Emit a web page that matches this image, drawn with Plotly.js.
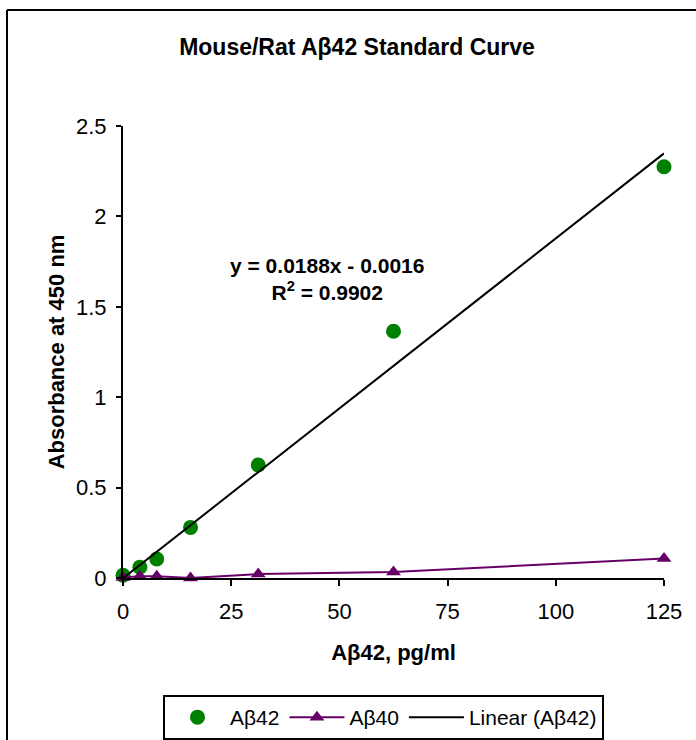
<!DOCTYPE html>
<html>
<head>
<meta charset="utf-8">
<script src="https://cdn.plot.ly/plotly-3.0.1.min.js"></script>
<style>
  html, body { margin: 0; padding: 0; background: #fff; }
  #chart { width: 696px; height: 740px; }
</style>
</head>
<body>
<div id="chart"></div>
<script>
// Concentrations (pg/ml)
const concentrations = [0, 3.9, 7.8, 15.6, 31.25, 62.5, 125];
// Absorbance at 450 nm
const ab42Values = [0.015, 0.06, 0.105, 0.28, 0.625, 1.365, 2.275];
const ab40Values = [0.003, 0.01, 0.01, 0.0, 0.022, 0.033, 0.108];
// Linear trendline (as printed on the chart)
const trendSlope = 0.0188;
const trendIntercept = -0.0016;
const trendX = [0, 125];
const xTicks = [0, 25, 50, 75, 100, 125];
const yTicks = [0, 0.5, 1, 1.5, 2, 2.5];
const yTickLabels = ['0', '0.5', '1', '1.5', '2', '2.5'];

const FONT = 'Liberation Sans, Arial, Helvetica, sans-serif';

const traces = [
  {
    name: 'Aβ42',
    x: concentrations,
    y: ab42Values,
    mode: 'markers',
    type: 'scatter',
    cliponaxis: false,
    marker: { color: '#008000', size: 15, symbol: 'circle' }
  },
  {
    name: 'Aβ40',
    x: concentrations,
    y: ab40Values,
    mode: 'lines+markers',
    type: 'scatter',
    cliponaxis: false,
    line: { color: '#660066', width: 2 },
    marker: { color: '#660066', size: 13, symbol: 'triangle-up' }
  },
  {
    name: 'Linear (Aβ42)',
    x: trendX,
    y: trendX.map(v => trendSlope * v + trendIntercept),
    mode: 'lines',
    type: 'scatter',
    cliponaxis: false,
    line: { color: '#000000', width: 2 }
  }
];

const layout = {
  width: 696,
  height: 740,
  margin: { l: 123, r: 32, t: 126, b: 162, autoexpand: false },
  paper_bgcolor: '#ffffff',
  plot_bgcolor: '#ffffff',
  font: { family: FONT, size: 22, color: '#000' },
  title: {
    text: 'Mouse/Rat Aβ42 Standard Curve',
    font: { family: FONT, size: 23, weight: 'bold', color: '#000' },
    xref: 'container', yref: 'container',
    x: 357 / 696, xanchor: 'center',
    y: 1 - 47 / 740, yanchor: 'middle'
  },
  xaxis: {
    range: [0, 125],
    tickvals: xTicks,
    ticktext: xTicks.map(String),
    ticks: 'outside', ticklen: 6, tickwidth: 2, tickcolor: '#000',
    ticklabelstandoff: 7,
    showline: true, linecolor: '#000', linewidth: 2,
    showgrid: false, zeroline: false,
    tickfont: { family: FONT, size: 22, color: '#000' },
    title: {
      text: 'Aβ42, pg/ml',
      font: { family: FONT, size: 22, weight: 'bold', color: '#000' },
      standoff: 21
    }
  },
  yaxis: {
    range: [0, 2.5],
    tickvals: yTicks,
    ticktext: yTickLabels,
    ticks: 'outside', ticklen: 5, tickwidth: 2, tickcolor: '#000',
    ticklabelstandoff: 5,
    showline: true, linecolor: '#000', linewidth: 2,
    showgrid: false, zeroline: false,
    tickfont: { family: FONT, size: 22, color: '#000' },
    title: {
      text: 'Absorbance at 450 nm',
      font: { family: FONT, size: 22, weight: 'bold', color: '#000' },
      standoff: 5
    }
  },
  showlegend: true,
  legend: {
    orientation: 'h',
    x: (163 - 123) / 541, xanchor: 'left',
    y: (578 - 695) / 452, yanchor: 'top',
    bordercolor: '#000', borderwidth: 2,
    bgcolor: '#fff',
    itemwidth: 55,
    font: { family: FONT, size: 21, color: '#000' },
    traceorder: 'normal'
  },
  annotations: [
    {
      text: 'y = 0.0188x - 0.0016<br>R<sup>2</sup> = 0.9902',
      x: (327 - 123) / 4.328, y: (578 - 279) / 180.8,
      xref: 'x', yref: 'y',
      showarrow: false,
      xanchor: 'center', yanchor: 'middle',
      font: { family: FONT, size: 21, weight: 'bold', color: '#000' }
    }
  ],
  shapes: [
    // outer chart frame (left & top edges visible)
    {
      type: 'line', xref: 'paper', yref: 'paper',
      x0: (7 - 123) / 541, x1: (7 - 123) / 541,
      y0: (578 - 10) / 452, y1: (578 - 760) / 452,
      line: { color: '#000', width: 2 }
    },
    {
      type: 'line', xref: 'paper', yref: 'paper',
      x0: (7 - 123) / 541, x1: (720 - 123) / 541,
      y0: (578 - 10) / 452, y1: (578 - 10) / 452,
      line: { color: '#000', width: 2 }
    }
  ]
};

Plotly.newPlot('chart', traces, layout, { displayModeBar: false, staticPlot: true });
</script>
</body>
</html>
